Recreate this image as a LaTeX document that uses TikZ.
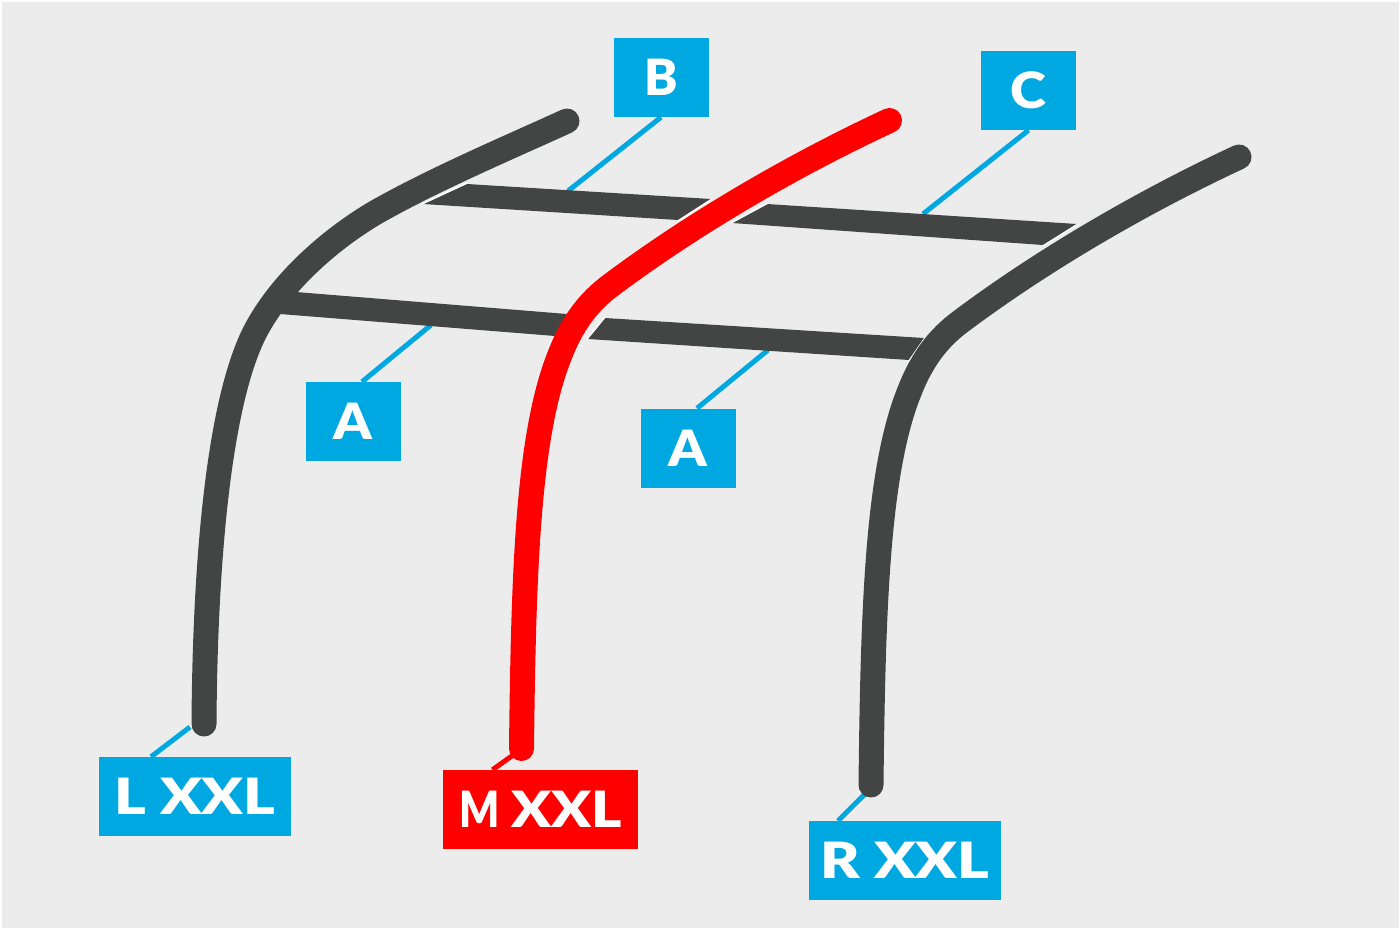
\documentclass[tikz,border=0pt]{standalone}
\usepackage{fontspec}
\setmainfont{Lato Black}
\newfontfamily\widefont{Lato Black}[FakeStretch=1.21]
\newfontfamily\xxlfont{Lato Black}[FakeStretch=1.16]
\newfontfamily\midfont{Lato Black}[FakeStretch=1.09]
\newfontfamily\narrowfont{Lato Black}[FakeStretch=0.84]
\definecolor{bgc}{HTML}{ECECEC}
\definecolor{tube}{HTML}{424544}
\definecolor{bluec}{HTML}{00A8E1}
\definecolor{redc}{HTML}{FF0000}
\tikzset{
  x=1pt,y=-1pt,
  bar/.style={fill=tube,draw=none},
  gap/.style={draw=white,line width=1.5pt},
  tubeline/.style={draw=tube,line width=25pt,line cap=round,line join=round},
  redline/.style={tubeline,draw=redc},
  lead/.style={draw=bluec,line width=5pt},
  redlead/.style={lead,draw=redc},
  tag/.style={fill=bluec,text=white,inner sep=0pt,minimum height=79pt,font=\fontsize{50}{50}\selectfont},
  redtag/.style={tag,fill=redc},
}
\begin{document}
\begin{tikzpicture}
\useasboundingbox (0,0) rectangle (1400,929);
\fill[white] (0,0) rectangle (1400,929);
\fill[bgc] (1.5,1.5) rectangle (1398.5,927.5);
% tags
\node[tag,minimum width=95pt] (b) at (661,77.5) {B};
\node[tag,minimum width=95pt] (c) at (1028.5,90.5) {\midfont C};
\node[tag,minimum width=95pt] (a1) at (353,421.5) {\midfont A};
\node[tag,minimum width=95pt] (a2) at (688,448) {\midfont A};
\node[tag,minimum width=192pt] (l) at (195,796.5) {\widefont L XXL};
\node[redtag,minimum width=195pt] (m) at (540.5,809.5) {{\narrowfont M}\kern12pt{\xxlfont XXL}};
\node[tag,minimum width=192pt] (r) at (905,860.5) {\widefont R XXL};
% free ends
\coordinate (bend) at (568,191);
\coordinate (cend) at (923,214);
\coordinate (a1end) at (431,325);
\coordinate (a2end) at (768,350);
\coordinate (lend) at (190,727);
\coordinate (mend) at (516,753);
\coordinate (rend) at (869,790);
% leads
\draw[lead] (b.south) -- (bend);
\draw[lead] (c.south) -- (cend);
\draw[lead] ([xshift=9pt]a1.north) -- (a1end);
\draw[lead] ([xshift=9pt]a2.north) -- (a2end);
\draw[lead] ([xshift=-44pt]l.north) -- (lend);
\draw[redlead] ([xshift=-48pt]m.north) -- (mend);
\draw[lead] ([xshift=-67pt]r.north) -- (rend);
% cross bars
\fill[bar] (467,184) -- (711,199) -- (678,220) -- (423,204) -- cycle;
\fill[bar] (767,204) -- (1077,224) -- (1043,245) -- (732,223) -- cycle;
\fill[bar] (296,292) -- (567,314) -- (555,336) -- (280,314) -- cycle;
\fill[bar] (605,318) -- (924,338) -- (909,360) -- (588,339) -- cycle;
\draw[gap] (467,183) -- (422,204);
\draw[gap] (712,199) -- (678,221);
\draw[gap] (768,203) -- (731,223);
\draw[gap] (1078,224) -- (1043,246);
\draw[gap] (568,314) -- (555,337);
\draw[gap] (605,317) -- (587,339);
\draw[gap] (925,338) -- (909,361);
% tubes
\draw[tubeline] (204,724) .. controls (205,560) and (219,400) .. (256,330)
  .. controls (280,285) and (325,243) .. (373,214)
  .. controls (430,181) and (510,147) .. (567,121);
\draw[redline] (521.5,748.5) .. controls (523.5,573.5) and (527.5,433.5) .. (560.5,353.5)
  .. controls (573.5,320.5) and (590.5,300.5) .. (610.5,285.5)
  .. controls (690.5,225.5) and (790.5,166.5) .. (889.5,120.5);
\draw[tubeline] (871,785) .. controls (873,610) and (877,470) .. (910,390)
  .. controls (923,357) and (940,337) .. (960,322)
  .. controls (1040,262) and (1140,203) .. (1239,157);
\end{tikzpicture}
\end{document}
